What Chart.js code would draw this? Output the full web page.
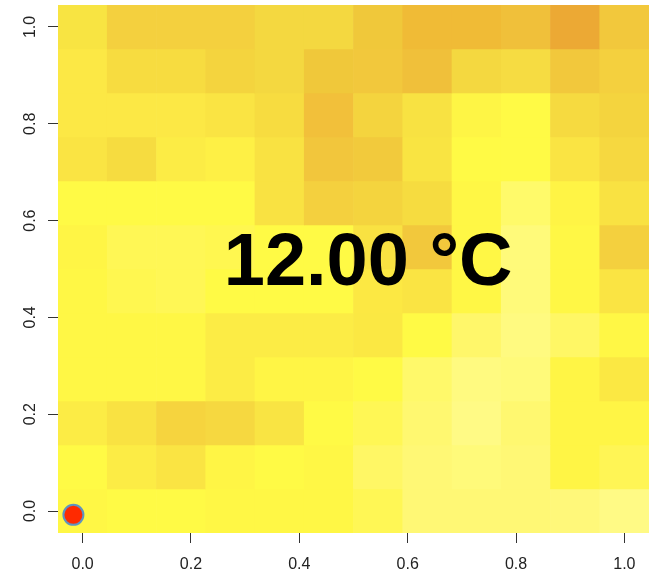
<!DOCTYPE html>
<html lang="en">
<head>
  <meta charset="UTF-8" />
  <title>Heatmap 12.00 °C</title>
  <script src="https://cdn.jsdelivr.net/npm/chart.js"></script>
  <style>
    body {
      margin: 0;
      background: #ffffff;
    }

    .wrap {
      width: 660px;
      height: 575px;
    }
  </style>
</head>
<body>

<div class="wrap">
  <canvas id="heat" width="660" height="575"></canvas>
</div>

<script>
  // cell centres, same for x and y
  const gridPos = [0, 0.0909, 0.1818, 0.2727, 0.3636, 0.4545, 0.5455, 0.6364, 0.7273, 0.8182, 0.9091, 1.0];
  const halfCell = 0.04545;

  // cell colours, row by row from the top (y = 1.0) down to y = 0.0
  const rowColors = [
    ['#f8e442', '#f4d03e', '#f4d03e', '#f4d03e', '#f4d840', '#f4d840', '#f0c83a', '#f0bb36', '#f0bb36', '#f0c03a', '#eca934', '#f2c83c'],
    ['#fce845', '#f7dc40', '#f7dc40', '#f4d43e', '#f4d840', '#f0c83a', '#f2c83c', '#f0c03a', '#f4d840', '#f6dc42', '#f2c83c', '#f4d03e'],
    ['#fce845', '#fce845', '#fce845', '#fae443', '#f7dc40', '#f2c03a', '#f4d43e', '#f8e242', '#fef545', '#fffa45', '#f6da40', '#f4d43e'],
    ['#fae443', '#f6dc40', '#fcec45', '#fef045', '#f9e242', '#f2c63c', '#f2ca3c', '#f9e442', '#fffa45', '#fffa45', '#fae443', '#f6d840'],
    ['#fffa45', '#fffa45', '#fffa45', '#fffa45', '#f9e242', '#f4d03e', '#f4d43e', '#f6dc40', '#fff745', '#fffa6a', '#fff445', '#f9e242'],
    ['#fff545', '#fff755', '#fff755', '#fff750', '#fffa45', '#fffa45', '#f9e242', '#f2c83c', '#fff745', '#fffa7a', '#fff745', '#f4d03e'],
    ['#fff745', '#fff750', '#fff755', '#fffa45', '#fffa45', '#fffa45', '#fce843', '#fae443', '#fff745', '#fffa7a', '#fff745', '#fae443'],
    ['#fff745', '#fff745', '#fff745', '#fcec45', '#fcec45', '#fcec45', '#fbe843', '#fffa45', '#fff76a', '#fffa80', '#fff765', '#fff745'],
    ['#fff745', '#fff745', '#fff745', '#fcec45', '#fff545', '#fff545', '#fffa45', '#fff96a', '#fffa80', '#fffa7a', '#fff545', '#fbe843'],
    ['#fcec45', '#f9e242', '#f6d43e', '#f6d840', '#f9e443', '#fffa45', '#fff755', '#fff870', '#fffa85', '#fff870', '#fff545', '#fff545'],
    ['#fffa45', '#fcec45', '#fae443', '#fff545', '#fffa45', '#fff745', '#fff765', '#fff875', '#fffa7a', '#fff875', '#fff545', '#fff555'],
    ['#fff745', '#fffa45', '#fffa45', '#fff745', '#fff745', '#fff745', '#fff755', '#fff875', '#fff875', '#fff875', '#fff87a', '#fffa85']
  ];

  const xTicks = [0, 0.2, 0.4, 0.6, 0.8, 1.0];
  const yTicks = [0, 0.2, 0.4, 0.6, 0.8, 1.0];

  // the red marker in the lower left corner
  const markerX = [-0.017];
  const markerY = [-0.008];

  const centreLabel = '12.00 °C';
  const labelAt = { x: 0.527, y: 0.467 };

  const FONT = "'Liberation Sans', Arial, sans-serif";

  // one floating bar dataset per row, all drawn on the same spot (grouped: false)
  const rowSets = rowColors.map((colors, r) => {
    const yc = gridPos[gridPos.length - 1 - r];
    return {
      type: 'bar',
      xAxisID: 'x',
      grouped: false,
      data: gridPos.map(() => [yc - halfCell, yc + halfCell]),
      backgroundColor: colors,
      borderWidth: 0,
      barPercentage: 1.0,
      categoryPercentage: 1.0
    };
  });

  const markerSet = {
    type: 'scatter',
    xAxisID: 'xl',
    order: -1, // on top of the cells
    data: markerX.map((x, i) => ({ x: x, y: markerY[i] })),
    backgroundColor: '#ff2a00',
    borderColor: '#5f93c0',
    borderWidth: 2,
    pointRadius: 10,
    clip: false
  };

  // big text in the middle
  const centreText = {
    id: 'centreText',
    afterDatasetsDraw(chart) {
      const ctx = chart.ctx;
      const px = chart.scales.xl.getPixelForValue(labelAt.x);
      const py = chart.scales.y.getPixelForValue(labelAt.y);
      ctx.save();
      ctx.font = `bold 74px ${FONT}`;
      ctx.fillStyle = '#000000';
      ctx.textAlign = 'center';
      ctx.textBaseline = 'alphabetic';
      ctx.fillText(centreLabel, px, py);
      ctx.restore();
    }
  };

  // drop the room chart.js keeps for the outer tick labels
  function noPad(axis) {
    axis.paddingTop = 0;
    axis.paddingBottom = 0;
    axis.paddingLeft = 0;
    axis.paddingRight = 0;
  }

  new Chart(document.getElementById('heat'), {
    data: {
      labels: gridPos.map(String),
      datasets: [...rowSets, markerSet]
    },
    options: {
      responsive: false,
      animation: false,
      layout: {
        autoPadding: false,
        padding: { top: 5, right: 11, left: 0, bottom: 0 }
      },
      plugins: {
        legend: { display: false },
        tooltip: { enabled: false }
      },
      scales: {
        x: {
          type: 'category',
          display: false,
          offset: true
        },
        xl: {
          type: 'linear',
          position: 'bottom',
          min: -halfCell,
          max: 1 + halfCell,
          afterBuildTicks: axis => { axis.ticks = xTicks.map(v => ({ value: v })); },
          afterFit: axis => { axis.height = 42; noPad(axis); },
          border: { display: false },
          grid: { drawOnChartArea: false, tickLength: 10, color: '#333333', tickWidth: 1 },
          ticks: {
            padding: 12,
            color: '#222222',
            font: { family: FONT, size: 16 },
            callback: v => v.toFixed(1)
          }
        },
        y: {
          type: 'linear',
          min: -halfCell,
          max: 1 + halfCell,
          afterBuildTicks: axis => { axis.ticks = yTicks.map(v => ({ value: v })); },
          afterFit: axis => { axis.width = 58; noPad(axis); },
          border: { display: false },
          grid: { drawOnChartArea: false, tickLength: 10, color: '#333333', tickWidth: 1 },
          ticks: {
            padding: 6,
            minRotation: 90,
            maxRotation: 90,
            crossAlign: 'center',
            color: '#222222',
            font: { family: FONT, size: 16 },
            callback: v => v.toFixed(1)
          }
        }
      }
    },
    plugins: [centreText]
  });
</script>

</body>
</html>
